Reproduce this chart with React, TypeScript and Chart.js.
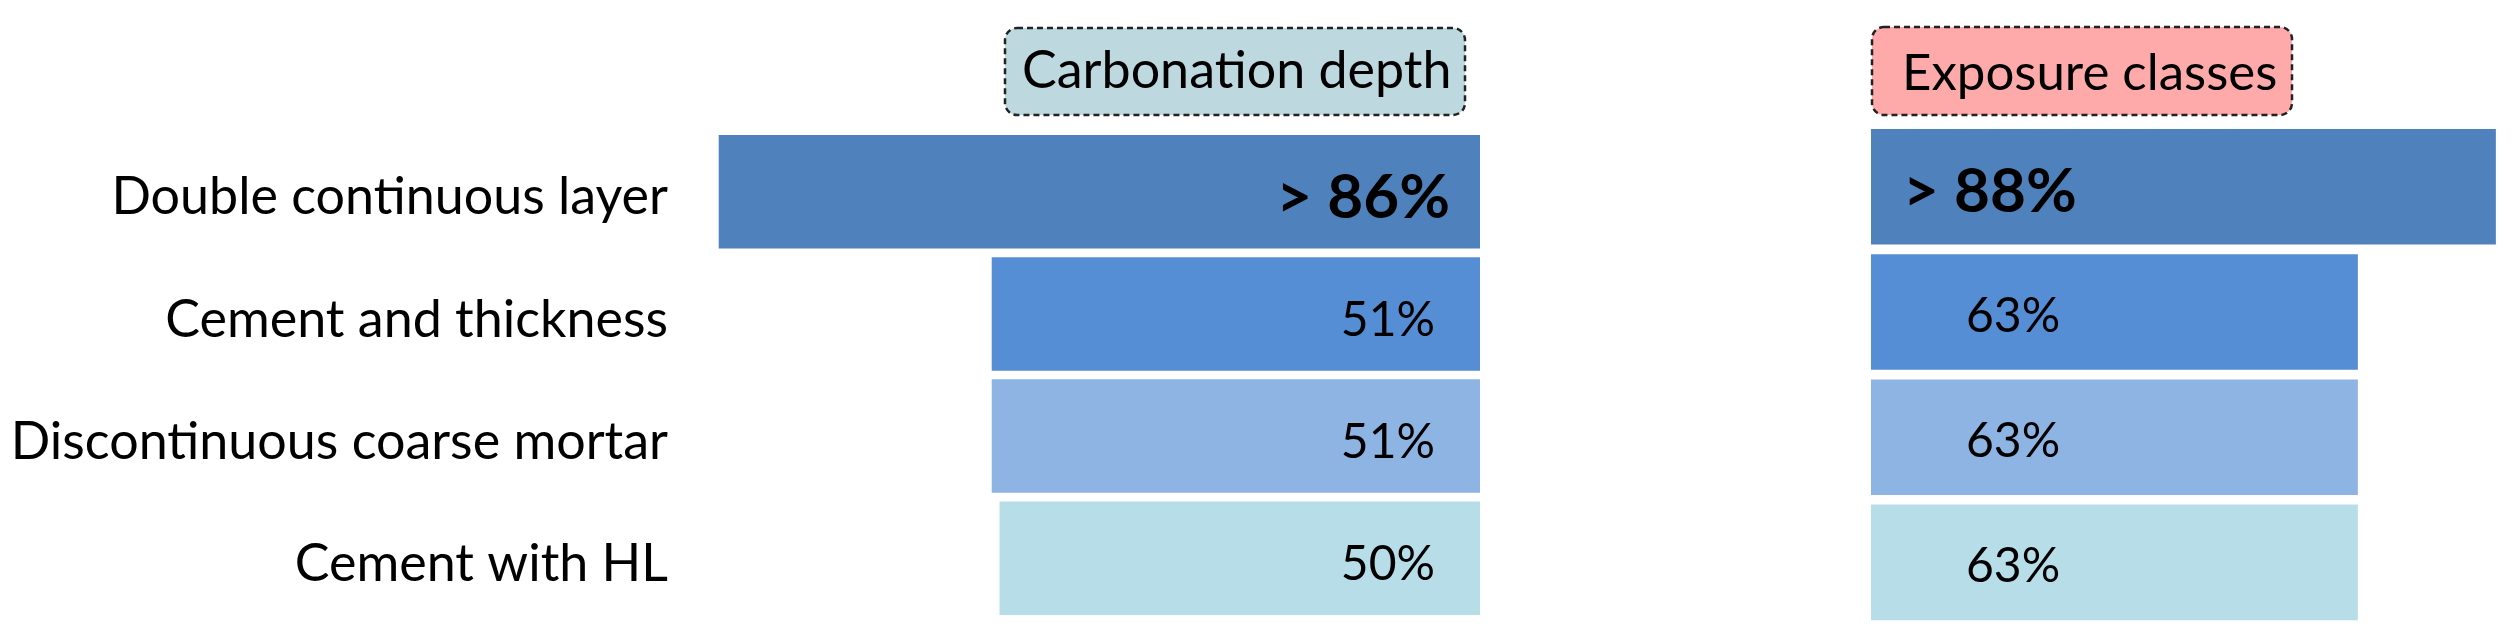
import React, { useEffect, useRef } from "react";
import { Chart, registerables } from "chart.js";

Chart.register(...registerables);

// ---- data ----
const categories = [
  "Double continuous layer",
  "Cement and thickness",
  "Discontinuous coarse mortar",
  "Cement with HL",
];
const carbonationValues = [86, 51, 51, 50];
const exposureValues = [88, 63, 63, 63];
const valuePrefixes = ["> ", "", "", ""];
const panelTitles = ["Carbonation depth", "Exposure classes"];
const barColors = ["#4F81BD", "#558ED5", "#8EB4E3", "#B7DDE8"];

const FONT = "Lato, 'Open Sans', sans-serif";

const valueLabelPlugin = {
  id: "valueLabels",
  afterDatasetsDraw(chart: any, _args: any, opts: any) {
    const { ctx } = chart;
    const meta = chart.getDatasetMeta(0);
    const ds = chart.data.datasets[0];
    meta.data.forEach((bar: any, i: number) => {
      const big = i === 0;
      const text = valuePrefixes[i] + ds.data[i] + "%";
      ctx.save();
      ctx.font = `${big ? "bold " : ""}${big ? opts.bigSize : opts.size}px ${FONT}`;
      ctx.fillStyle = "#000";
      ctx.textBaseline = "alphabetic";
      const off = big ? opts.bigOffset : opts.offset;
      let x: number;
      if (opts.align === "right") {
        ctx.textAlign = "right";
        x = bar.base - off;
      } else {
        ctx.textAlign = "left";
        x = bar.base + off;
      }
      ctx.fillText(text, x, bar.y + (big ? opts.bigDy : opts.dy));
      ctx.restore();
    });
  },
};

const titleBoxPlugin = {
  id: "titleBox",
  afterDraw(chart: any, _args: any, opts: any) {
    const { ctx } = chart;
    ctx.save();
    ctx.beginPath();
    const r = 12;
    if (ctx.roundRect) {
      ctx.roundRect(opts.x, opts.y, opts.w, opts.h, r);
    } else {
      ctx.rect(opts.x, opts.y, opts.w, opts.h);
    }
    ctx.fillStyle = opts.fill;
    ctx.fill();
    ctx.setLineDash([6, 4]);
    ctx.lineWidth = 2.5;
    ctx.strokeStyle = "#222";
    ctx.stroke();
    ctx.setLineDash([]);
    ctx.font = `${opts.size}px ${FONT}`;
    ctx.fillStyle = "#000";
    ctx.textAlign = "left";
    ctx.textBaseline = "alphabetic";
    ctx.fillText(opts.text, opts.textX, opts.baseline);
    ctx.restore();
  },
};

function LeftPanel() {
  const ref = useRef<HTMLCanvasElement>(null);
  useEffect(() => {
    const chart = new Chart(ref.current!, {
      type: "bar",
      data: {
        labels: categories,
        datasets: [
          {
            data: carbonationValues,
            backgroundColor: barColors,
            base: -11.6,
            barPercentage: 0.929,
            categoryPercentage: 1,
          } as any,
        ],
      },
      options: {
        indexAxis: "y",
        responsive: false,
        animation: false,
        layout: { padding: { left: 0, right: 20, top: 130.6, bottom: 21.6 } },
        plugins: {
          legend: { display: false },
          tooltip: { enabled: false },
          valueLabels: {
            align: "right",
            size: 48,
            bigSize: 62,
            offset: 45,
            bigOffset: 30,
            dy: 22,
            bigDy: 26,
          },
          titleBox: {
            x: 1005,
            y: 28,
            w: 460,
            h: 87,
            fill: "#BED8DF",
            text: panelTitles[0],
            textX: 1022,
            baseline: 88,
            size: 52,
          },
        } as any,
        scales: {
          x: {
            type: "linear",
            reverse: true,
            min: -11.6,
            max: 88.4,
            display: false,
          },
          y: {
            grid: { display: false, drawTicks: false },
            border: { display: false },
            ticks: {
              color: "#000",
              padding: 32,
              labelOffset: 6,
              font: { family: FONT, size: 52 },
            },
            afterFit: (s: any) => {
              s.width = 700;
              s.paddingTop = 0;
              s.paddingBottom = 0;
            },
          },
        },
      },
      plugins: [valueLabelPlugin, titleBoxPlugin],
    });
    return () => chart.destroy();
  }, []);
  return (
    <canvas
      ref={ref}
      width={1500}
      height={641}
      style={{ position: "absolute", left: 0, top: 0, width: 1500, height: 641 }}
    />
  );
}

function RightPanel() {
  const ref = useRef<HTMLCanvasElement>(null);
  useEffect(() => {
    const chart = new Chart(ref.current!, {
      type: "bar",
      data: {
        labels: categories,
        datasets: [
          {
            data: exposureValues,
            backgroundColor: barColors,
            base: -25.2,
            barPercentage: 0.923,
            categoryPercentage: 1,
          } as any,
        ],
      },
      options: {
        indexAxis: "y",
        responsive: false,
        animation: false,
        layout: { padding: { left: 11, right: 14, top: 124.2, bottom: 16 } },
        plugins: {
          legend: { display: false },
          tooltip: { enabled: false },
          valueLabels: {
            align: "left",
            size: 48,
            bigSize: 62,
            offset: 95,
            bigOffset: 32,
            dy: 19.5,
            bigDy: 25,
          },
          titleBox: {
            x: 12,
            y: 27,
            w: 420,
            h: 88,
            fill: "#FFAAAA",
            text: panelTitles[1],
            textX: 42,
            baseline: 90,
            size: 51,
          },
        } as any,
        scales: {
          x: {
            type: "linear",
            min: -25.2,
            max: 88.75,
            display: false,
          },
          y: {
            display: false,
          },
        },
      },
      plugins: [valueLabelPlugin, titleBoxPlugin],
    });
    return () => chart.destroy();
  }, []);
  return (
    <canvas
      ref={ref}
      width={654}
      height={641}
      style={{ position: "absolute", left: 1860, top: 0, width: 654, height: 641 }}
    />
  );
}

export default function App() {
  return (
    <div
      style={{
        position: "absolute",
        left: 0,
        top: 0,
        width: 2514,
        height: 641,
        background: "#fff",
        overflow: "hidden",
      }}
    >
      <LeftPanel />
      <RightPanel />
    </div>
  );
}
